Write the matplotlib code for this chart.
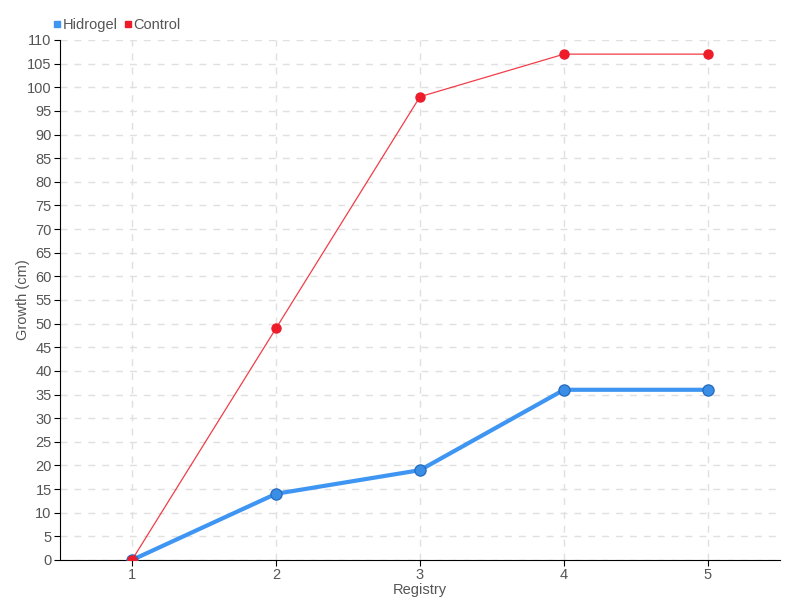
import numpy as np
import matplotlib
matplotlib.use('Agg')
import matplotlib.pyplot as plt
from matplotlib.lines import Line2D

plt.rcParams['font.family'] = ['Liberation Sans', 'DejaVu Sans']

registry = [1, 2, 3, 4, 5]
hidrogel = [0, 14, 19, 36, 36]
control = [0, 49, 98, 107, 107]
yticks = np.arange(0, 111, 5)

blue = '#3f95f2'
red = '#ee1c2a'
txt = '#555555'

fig = plt.figure(figsize=(8, 6), dpi=100)
ax = fig.add_axes([0.075, 0.0667, 0.9, 0.8667])

ax.plot(registry, hidrogel, color=blue, linewidth=3, marker='o', markersize=8,
        markerfacecolor='#3a8ee6', markeredgecolor='#2a6fc0', markeredgewidth=1, zorder=3)
ax.plot(registry, control, color=red, linewidth=0.9, alpha=0.85, zorder=4)
ax.plot(registry, control, linestyle='none', marker='o', markersize=6.5,
        markerfacecolor=red, markeredgecolor=red, zorder=5)

ax.set_xlim(0.5, 5.5)
ax.set_ylim(0, 110)
ax.set_xticks(registry)
ax.set_yticks(yticks)
ax.grid(True, linestyle=(0, (5, 5)), color='#e0e0e0', linewidth=1)
ax.set_axisbelow(True)
for s in ['top', 'right']:
    ax.spines[s].set_visible(False)
ax.spines['left'].set_color('black')
ax.spines['bottom'].set_color('black')
ax.tick_params(axis='both', labelsize=10.5, labelcolor=txt, color='black', length=4, pad=2)

ax.set_xlabel('Registry', fontsize=10.5, color=txt)
ax.xaxis.set_label_coords(0.5, -0.044)
ax.set_ylabel('Growth (cm)', fontsize=10.5, color=txt)
ax.yaxis.set_label_coords(-0.042, 0.5)

handles = [Line2D([], [], linestyle='none', marker='s', markersize=4.5, color=blue),
           Line2D([], [], linestyle='none', marker='s', markersize=4.5, color=red)]
fig.legend(handles, ['Hidrogel', 'Control'], loc='upper left', bbox_to_anchor=(0.058, 0.982),
           ncol=2, frameon=False, fontsize=10.5, handlelength=0.5, handletextpad=0.15,
           columnspacing=0.4, labelcolor=txt, borderpad=0)

fig.savefig('out.png', dpi=100)
